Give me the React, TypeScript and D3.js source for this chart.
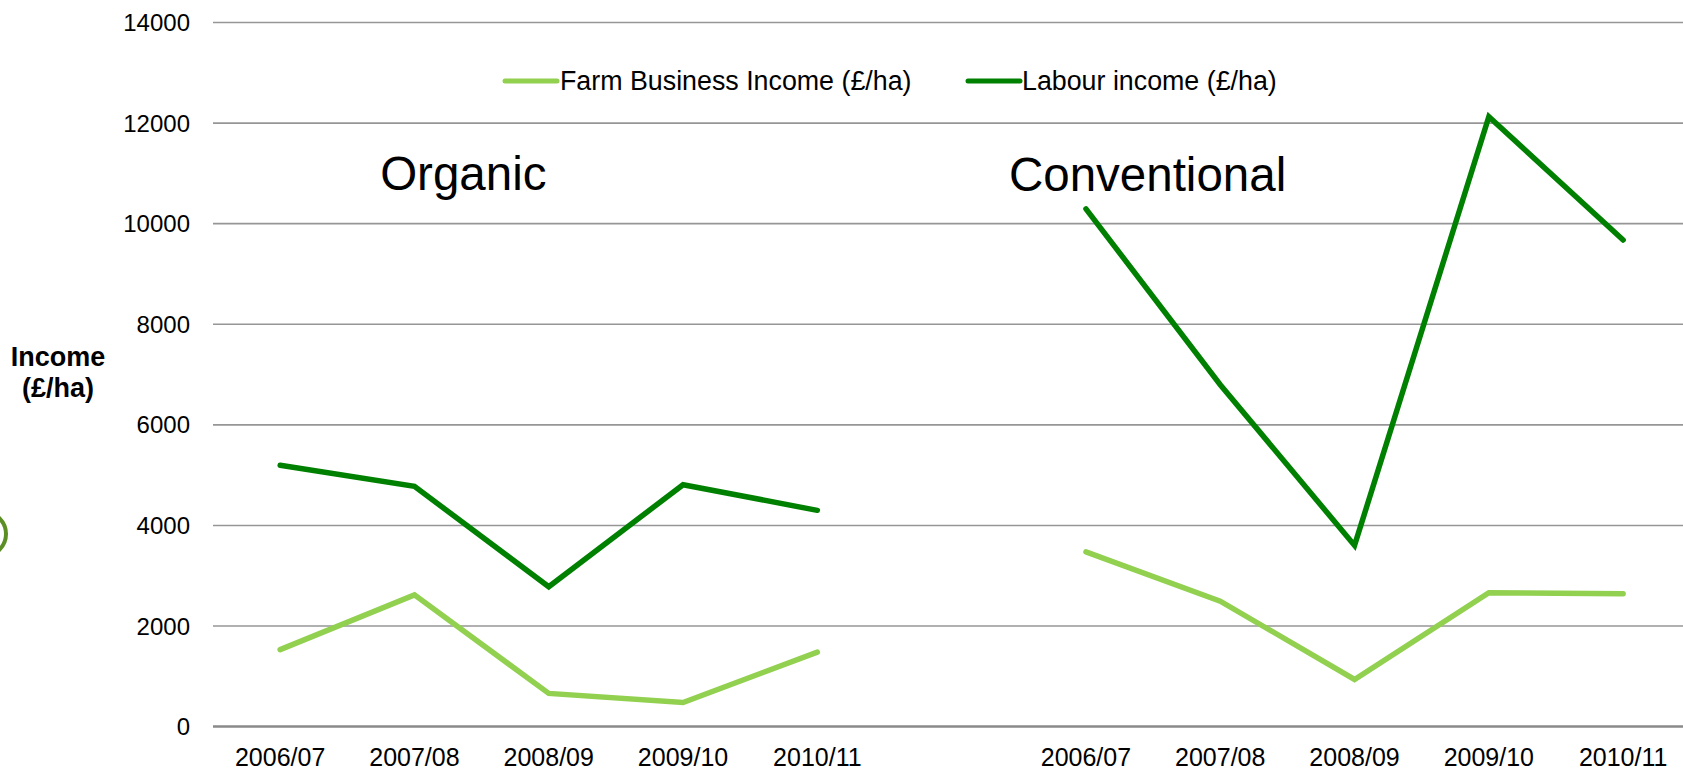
import React from "react";
import * as d3 from "d3";

const years = ["2006/07", "2007/08", "2008/09", "2009/10", "2010/11"];
const groups = ["Organic", "Conventional"];
const organicFBI = [1530, 2620, 660, 480, 1480];
const organicLabour = [5195, 4778, 2780, 4810, 4300];
const conventionalFBI = [3473, 2494, 937, 2663, 2643];
const conventionalLabour = [10294, 6799, 3602, 12127, 9676];
const yTicks = [0, 2000, 4000, 6000, 8000, 10000, 12000, 14000];
const seriesNames = ["Farm Business Income (£/ha)", "Labour income (£/ha)"];
const seriesColors = ["#92D050", "#008000"];

const W = 1683;
const H = 770;
const plotLeft = 213;
const slotW = 134.3;
const yTop = 22.5;
const yBottom = 726.6;
const FONT = "'Liberation Sans', Arial, sans-serif";

export default function App() {
  const slots = [
    ...years.map((y) => "O-" + y),
    "gap",
    ...years.map((y) => "C-" + y),
  ];
  const x = d3
    .scaleBand<string>()
    .domain(slots)
    .range([plotLeft, plotLeft + slots.length * slotW])
    .padding(0);
  const cx = (k: string) => (x(k) as number) + x.bandwidth() / 2;
  const y = d3.scaleLinear().domain([0, 14000]).range([yBottom, yTop]);

  const line = d3
    .line<{ k: string; v: number }>()
    .x((d) => cx(d.k))
    .y((d) => y(d.v));

  const mk = (prefix: string, vals: number[]) =>
    vals.map((v, i) => ({ k: prefix + years[i], v }));

  const series = [
    { d: mk("O-", organicFBI), c: seriesColors[0] },
    { d: mk("O-", organicLabour), c: seriesColors[1] },
    { d: mk("C-", conventionalFBI), c: seriesColors[0] },
    { d: mk("C-", conventionalLabour), c: seriesColors[1] },
  ];

  return (
    <svg
      width={W}
      height={H}
      style={{ position: "absolute", left: 0, top: 0, background: "#fff" }}
      fontFamily={FONT}
    >
      <rect x={0} y={0} width={W} height={H} fill="#fff" />
      {/* gridlines */}
      {yTicks.map((t) => (
        <line
          key={t}
          x1={plotLeft}
          x2={W}
          y1={y(t)}
          y2={y(t)}
          stroke={t === 0 ? "#8a8a8a" : "#969696"}
          strokeWidth={t === 0 ? 2.5 : 1.6}
        />
      ))}
      {/* y tick labels */}
      {yTicks.map((t) => (
        <text
          key={"l" + t}
          x={190}
          y={y(t)}
          dy="0.36em"
          textAnchor="end"
          fontSize={24}
          fill="#000"
        >
          {t}
        </text>
      ))}
      {/* y axis title */}
      <text x={58} y={366} textAnchor="middle" fontSize={27} fontWeight="bold">
        Income
      </text>
      <text x={58} y={397} textAnchor="middle" fontSize={27} fontWeight="bold">
        (£/ha)
      </text>
      {/* x labels */}
      {slots
        .filter((s) => s !== "gap")
        .map((s) => (
          <text
            key={"x" + s}
            x={cx(s)}
            y={766}
            textAnchor="middle"
            fontSize={25}
          >
            {s.slice(2)}
          </text>
        ))}
      {/* group titles */}
      <text x={cx("O-" + years[0]) + 100} y={190} fontSize={47.5}>
        {groups[0]}
      </text>
      <text x={cx("C-" + years[0]) - 77} y={191} fontSize={47.5}>
        {groups[1]}
      </text>
      {/* lines */}
      {series.map((s, i) => (
        <path
          key={"s" + i}
          d={line(s.d) || ""}
          fill="none"
          stroke={s.c}
          strokeWidth={5.5}
          strokeLinejoin="miter"
          strokeLinecap="round"
        />
      ))}
      {/* legend */}
      <line x1={505} x2={557} y1={81} y2={81} stroke={seriesColors[0]} strokeWidth={5} strokeLinecap="round" />
      <text x={560} y={81} dy="0.35em" fontSize={26.8}>
        {seriesNames[0]}
      </text>
      <line x1={968} x2={1020} y1={81} y2={81} stroke={seriesColors[1]} strokeWidth={5} strokeLinecap="round" />
      <text x={1022} y={81} dy="0.35em" fontSize={26.8}>
        {seriesNames[1]}
      </text>
      {/* decorative circle at left edge */}
      <circle cx={-16} cy={534} r={22} fill="none" stroke="#5B8E23" strokeWidth={4} />
    </svg>
  );
}
